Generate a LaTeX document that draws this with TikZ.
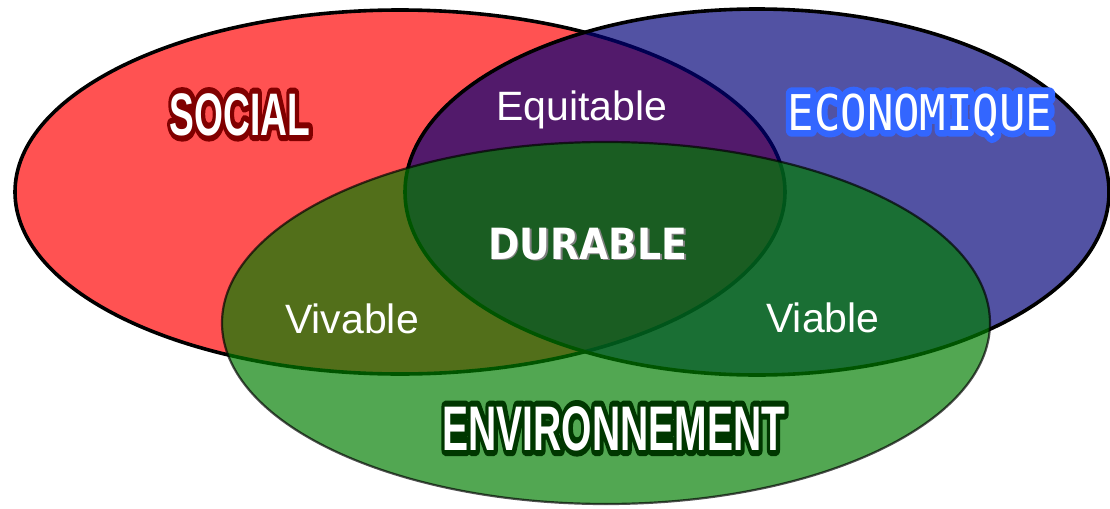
\documentclass[tikz,border=0pt]{standalone}
\usepackage{graphicx}
\usepackage{fontspec}
\usepackage{tikz}
\newfontfamily\arialfont{Liberation Sans}
\newfontfamily\durablefont{DejaVu Sans}
\newfontfamily\econfont{DejaVu Sans Mono}
\definecolor{socialred}{RGB}{255,0,0}
\definecolor{econblue}{RGB}{0,0,120}
\definecolor{envgreen}{RGB}{0,126,0}
\definecolor{socialedge}{RGB}{128,0,0}
\definecolor{econedge}{RGB}{51,102,255}
\definecolor{envedge}{RGB}{0,55,0}
\newcommand{\narrow}[1]{\scalebox{0.62}[1]{#1}}
% stroked text (fill and stroke, round joins)
\newcommand{\stroked}[2]{\special{pdf:literal direct 2 Tr #1 w 1 j}#2\special{pdf:literal direct 0 Tr 1 w 0 j}}

\begin{document}
\begin{tikzpicture}[x=0.5pt, y=-0.5pt,
	circlefill/.style = {fill opacity=0.68, line width=1.8pt},
	label/.style = {anchor=base, text=white, inner sep=0pt}]
	\useasboundingbox (0,0) rectangle (1110,509);
	\fill[white] (0,0) rectangle (1110,509);

	% the three ellipses
	\draw [circlefill, fill=socialred] (400,192) ellipse [x radius=385, y radius=182];
	\draw [circlefill, fill=econblue] (757,192) ellipse [x radius=352, y radius=183];
	\draw [fill=envgreen, opacity=0.68, line width=1.1pt] (606,323) ellipse [x radius=384, y radius=181];

	% titles: thick stroked copy below, white text on top
	\node [label, text=socialedge] at (240,135) {\arialfont\bfseries\fontsize{30}{30}\selectfont\narrow{\stroked{6}{SOCIAL}}};
	\node [label] (social) at (240,135) {\arialfont\bfseries\fontsize{30}{30}\selectfont\narrow{SOCIAL}};
	\node [label, text=econedge] at (920,130) {\econfont\fontsize{22}{22}\selectfont\scalebox{1}[1.12]{\stroked{6}{ECONOMIQUE}}};
	\node [label] (economique) at (920,130) {\econfont\fontsize{22}{22}\selectfont\scalebox{1}[1.12]{ECONOMIQUE}};
	\node [label, text=envedge] at (614,450) {\arialfont\bfseries\fontsize{31.5}{31.5}\selectfont\narrow{\stroked{6}{ENVIRONNEMENT}}};
	\node [label] (environnement) at (614,450) {\arialfont\bfseries\fontsize{31.5}{31.5}\selectfont\narrow{ENVIRONNEMENT}};

	% overlaps
	\node [label] (equitable) at (582,120) {\arialfont\fontsize{20.5}{20.5}\selectfont Equitable};
	\node [label] (vivable) at (352,333) {\arialfont\fontsize{20.5}{20.5}\selectfont Vivable};
	\node [label] (viable) at (823,332) {\arialfont\fontsize{20.5}{20.5}\selectfont Viable};
	\node [label, text=gray, shift={(0.8pt,-0.8pt)}] at (588,259) {\durablefont\bfseries\fontsize{21.5}{21.5}\selectfont\scalebox{0.88}[1]{DURABLE}};
	\node [label] (durable) at (588,259) {\durablefont\bfseries\fontsize{21.5}{21.5}\selectfont\scalebox{0.88}[1]{DURABLE}};
\end{tikzpicture}
\end{document}
